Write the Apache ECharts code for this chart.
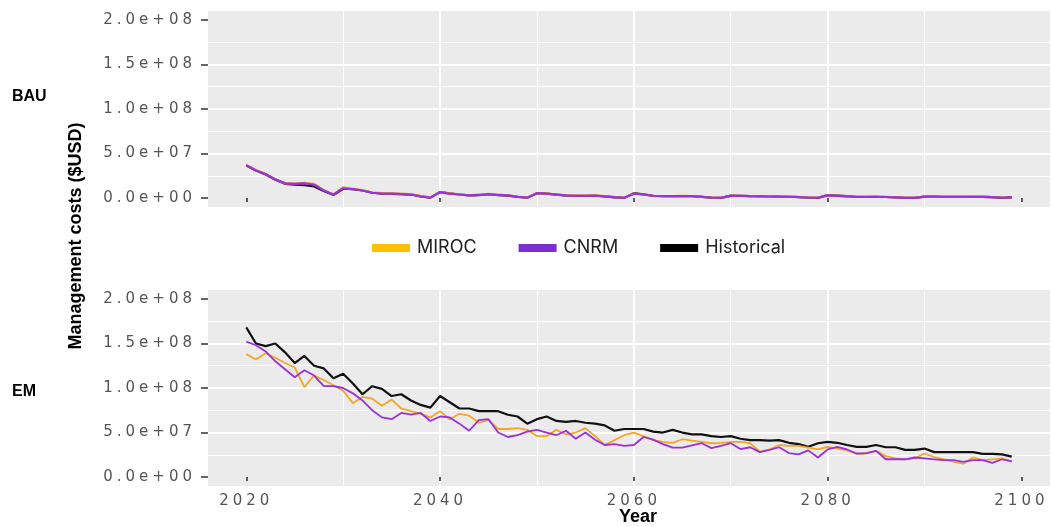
<!DOCTYPE html>
<html>
<head>
<meta charset="utf-8">
<script src="https://cdn.jsdelivr.net/npm/echarts@6/dist/echarts.min.js"></script>
<style>
  html, body { margin: 0; background: #fff; }
  #chart { width: 1052px; height: 527px; }
</style>
</head>
<body>
<div id="chart"></div>
<script>
const YEARS = Array.from({ length: 80 }, (_, i) => 2020 + i);

// Management costs, millions of USD, one value per year 2020..2099
const BAU_MIROC = [
  37, 31.5, 27, 21, 16.5, 16.5, 17, 16, 9, 4,
  12, 10.5, 9, 6.5, 5.5, 5, 5, 4.5, 2.5, 0.8,
  6.5, 5.2, 4.2, 3.2, 3.8, 4.8, 3.8, 3.2, 1.8, 0.6,
  5.6, 5.1, 4.1, 3.1, 2.7, 2.8, 3.0, 2.2, 1.1, 0.4,
  5.0, 4.0, 2.5, 2.3, 2.3, 2.4, 2.3, 1.6, 0.6, 0.3,
  2.5, 2.5, 2.3, 2.0, 1.9, 1.7, 1.6, 1.3, 0.7, 0.3,
  3.0, 2.5, 2.0, 1.3, 1.2, 1.4, 1.3, 0.9, 0.4, 0.2,
  1.6, 1.7, 1.6, 1.5, 1.5, 1.5, 1.4, 1.1, 0.4, 1.0
];
const BAU_CNRM = [
  37, 31, 27, 21, 16.5, 16, 16.5, 15, 8.5, 4,
  11, 10, 8.5, 6, 5, 5, 4.5, 4, 2, 0.5,
  6.5, 5, 4, 3, 3.5, 4.5, 3.5, 3, 1.5, 0.5,
  5.5, 5, 4, 3, 2.5, 2.5, 2.8, 2, 1, 0.3,
  5, 4, 2.5, 2.2, 2.2, 2.3, 2.2, 1.5, 0.5, 0.3,
  2.5, 2.5, 2.2, 2, 1.8, 1.6, 1.5, 1.2, 0.6, 0.3,
  3, 2.5, 2, 1.2, 1.2, 1.3, 1.2, 0.8, 0.3, 0.2,
  1.6, 1.6, 1.5, 1.5, 1.5, 1.4, 1.4, 1.0, 0.3, 1.0
];
const BAU_HIST = [
  36.5, 31, 26.5, 20.5, 16, 15, 14.5, 13, 8, 3.5,
  10.5, 10, 8.5, 6, 5, 4.8, 4.5, 4, 2, 0.5,
  6.8, 5.2, 4, 3, 3.2, 4.3, 3.3, 2.8, 1.4, 0.4,
  5.5, 5, 3.8, 2.8, 2.4, 2.5, 2.6, 1.9, 0.9, 0.2,
  5.5, 4.2, 2.6, 2.2, 2.1, 2.3, 2.1, 1.4, 0.5, 0.2,
  2.7, 2.6, 2.3, 2.1, 1.8, 1.7, 1.5, 1.1, 0.5, 0.2,
  3.4, 2.8, 2.2, 1.3, 1.3, 1.4, 1.2, 0.8, 0.3, 0.2,
  1.7, 1.6, 1.5, 1.5, 1.5, 1.4, 1.3, 1.0, 0.3, 0.9
];

const EM_MIROC = [
  138, 132, 139, 134, 128, 123, 101, 114, 109, 103,
  97, 83, 90, 88, 80, 87, 77, 74, 71, 67,
  74, 65, 71, 69, 61, 64, 54, 54, 55, 53,
  46, 46, 53, 48, 50, 55, 46, 36, 41.5, 47,
  50, 46, 41.5, 39.5, 38.5, 42.5, 41, 39.5, 38, 38.5,
  39.5, 39.5, 38, 28.5, 31, 36, 35, 35, 33, 31,
  34, 32, 30, 26, 26.5, 29.5, 23.5, 21, 20, 21,
  26.5, 22.5, 20, 17, 15, 22, 19, 20, 21, 17
];
const EM_CNRM = [
  152, 148, 141, 130, 121, 112, 120, 114, 102, 102,
  100, 94, 86, 75, 67, 65, 72, 70, 72, 63,
  68, 67, 60, 52, 64, 65, 50, 45, 47, 51,
  53, 50, 47, 52, 43, 50, 42, 36, 37, 35,
  36, 45, 42, 37, 33, 33, 35.5, 38, 32.5, 35,
  38, 31.5, 33.5, 28, 30.5, 33.5, 27, 25.5, 30, 22,
  31, 34, 31, 26.5, 27, 29.5, 20, 20, 20, 22,
  21, 20, 19, 19, 17, 19, 19, 16, 20, 18
];
const EM_HIST = [
  168, 150, 147, 150, 140, 128, 136, 125, 122, 111,
  116, 105, 93, 102, 99, 91, 93, 86, 81, 78,
  91, 84, 77, 77, 74, 74, 74, 70, 68, 60,
  65, 68, 63, 62, 63, 61, 60, 58, 52, 54,
  54, 54, 51, 50, 53, 50, 48, 48, 46, 45,
  46, 43, 41.5, 41.5, 41, 41.5, 38.5, 37, 34, 38,
  39.5, 38.5, 36, 34, 34, 36, 33.5, 33.5, 30.5, 30.5,
  32, 28, 28, 28, 28, 28, 26, 26, 25.5, 23
];

const Y_TICKS = [0, 50, 100, 150, 200];
const X_TICKS = [2020, 2040, 2060, 2080, 2100];

const COLORS = { MIROC: '#f5a623', CNRM: '#9b30dd', Historical: '#111111' };
const LEGEND_COLORS = { MIROC: '#ffc000', CNRM: '#7b2fcf', Historical: '#000000' };

// tick labels in the original use a wide, spaced font: only 15px DejaVu text gets the spacing
const origFillText = CanvasRenderingContext2D.prototype.fillText;
CanvasRenderingContext2D.prototype.fillText = function (t, x, y, w) {
  const prev = this.letterSpacing;
  const f = this.font;
  this.letterSpacing = (f.indexOf('DejaVu') >= 0 && f.indexOf('15px') >= 0) ? '4px' : '0px';
  const r = w === undefined ? origFillText.call(this, t, x, y) : origFillText.call(this, t, x, y, w);
  this.letterSpacing = prev;
  return r;
};

const sci = (v) => (v * 1e6).toExponential(1).replace(/e([+-])(\d)$/, 'e$10$2');
const tickFont = { fontFamily: 'DejaVu Sans', fontSize: 15, color: '#555555' };

const xAxisFor = (gridIndex, showLabels) => ({
  gridIndex,
  type: 'value',
  min: 2016.05,
  max: 2102.95,
  axisLine: { show: false },
  axisTick: { show: true, length: 4, customValues: X_TICKS, lineStyle: { color: '#333', width: 1.6 } },
  axisLabel: { show: showLabels, customValues: X_TICKS, margin: 8, formatter: (v) => String(v), ...tickFont },
  splitLine: { show: true, showMinLine: false, showMaxLine: false, lineStyle: { color: '#fff', width: 2 } },
  minorTick: { show: false, splitNumber: 2 },
  minorSplitLine: { show: true, lineStyle: { color: '#fff', width: 1 } }
});

const yAxisFor = (gridIndex) => ({
  gridIndex,
  type: 'value',
  min: -10,
  max: 210,
  axisLine: { show: false },
  axisTick: { show: true, length: 7, customValues: Y_TICKS, lineStyle: { color: '#333', width: 1.5 } },
  axisLabel: { customValues: Y_TICKS, margin: 12, formatter: sci, ...tickFont },
  splitLine: { show: true, showMinLine: false, showMaxLine: false, lineStyle: { color: '#fff', width: 2 } },
  minorTick: { show: false, splitNumber: 2 },
  minorSplitLine: { show: true, lineStyle: { color: '#fff', width: 1 } }
});

const lineSeries = (name, values, idx, width) => ({
  name,
  type: 'line',
  xAxisIndex: idx,
  yAxisIndex: idx,
  symbol: 'none',
  silent: true,
  lineStyle: { color: COLORS[name], width },
  itemStyle: { color: COLORS[name] },
  data: YEARS.map((y, i) => [y, values[i]])
});

const chart = echarts.init(document.getElementById('chart'));
chart.setOption({
  animation: false,
  backgroundColor: '#fff',
  grid: [
    { left: 208, right: 2, top: 11, height: 196, show: true, backgroundColor: '#ebebeb', borderWidth: 0 },
    { left: 208, right: 2, top: 290, height: 196, show: true, backgroundColor: '#ebebeb', borderWidth: 0 }
  ],
  xAxis: [xAxisFor(0, false), xAxisFor(1, true)],
  yAxis: [yAxisFor(0), yAxisFor(1)],
  legend: {
    data: ['MIROC', 'CNRM', 'Historical'].map(n => ({ name: n, itemStyle: { color: LEGEND_COLORS[n] } })),
    left: 372,
    top: 239,
    padding: 0,
    icon: 'rect',
    itemWidth: 38,
    itemHeight: 8,
    itemGap: 42,
    selectedMode: false,
    textStyle: { fontFamily: 'Inter', fontSize: 18, color: '#222', padding: [0, 0, 0, 2] }
  },
  graphic: [
    { type: 'text', x: 12, y: 97, style: { text: 'BAU', font: 'bold 16px "Liberation Sans"', fill: '#000', verticalAlign: 'middle' } },
    { type: 'text', x: 12, y: 392, style: { text: 'EM', font: 'bold 16px "Liberation Sans"', fill: '#000', verticalAlign: 'middle' } },
    { type: 'text', x: 76, y: 236, rotation: Math.PI / 2, style: { text: 'Management costs ($USD)', font: 'bold 18px "Liberation Sans"', fill: '#000', align: 'center', verticalAlign: 'middle' } },
    { type: 'text', x: 638, y: 517, style: { text: 'Year', font: 'bold 18px "Liberation Sans"', fill: '#000', align: 'center', verticalAlign: 'middle' } }
  ],
  series: [
    lineSeries('Historical', BAU_HIST, 0, 2.2),
    lineSeries('MIROC', BAU_MIROC, 0, 2.2),
    lineSeries('CNRM', BAU_CNRM, 0, 2.2),
    lineSeries('Historical', EM_HIST, 1, 2.2),
    lineSeries('MIROC', EM_MIROC, 1, 1.8),
    lineSeries('CNRM', EM_CNRM, 1, 1.8)
  ]
});
</script>
</body>
</html>
